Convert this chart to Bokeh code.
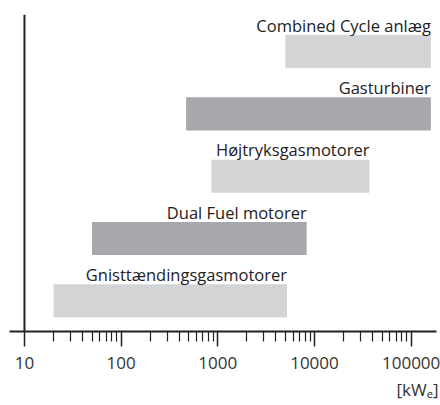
from bokeh.plotting import figure
from bokeh.models import Range1d, FixedTicker, NumeralTickFormatter, Span, Title, ColumnDataSource
from bokeh.core.properties import value
from bokeh.embed import file_html
from bokeh.resources import INLINE

# Data (kWe ranges), listed bottom to top
technologies = ["Gnisttændingsgasmotorer", "Dual Fuel motorer", "Højtryksgasmotorer",
                "Gasturbiner", "Combined Cycle anlæg"]
range_min = [20, 50, 860, 470, 5000]
range_max = [5200, 8300, 37000, 160000, 160000]
shade = ["light", "dark", "light", "dark", "light"]
major_ticks = [10, 100, 1000, 10000, 100000]
minor_ticks = [m * 10 ** k for k in range(1, 5) for m in range(2, 10)]
unit_label = "[kWₑ]"

palette = {"light": "#d3d4d6", "dark": "#a7a8ab"}
BAR_H = 0.53
LABEL_GAP = 0.16  # gap between bar top and label anchor, in row units

pos = [i + 1 for i in range(len(technologies))]
src = ColumnDataSource(dict(
    y=pos, left=range_min, right=range_max,
    color=[palette[s] for s in shade],
    label=technologies,
    ytext=[p_ + BAR_H / 2 + LABEL_GAP for p_ in pos],
))

p = figure(width=440, height=405, x_axis_type="log",
           x_range=Range1d(7.0, 183000), y_range=Range1d(0.507, 5.595),
           output_backend="svg", toolbar_location=None,
           min_border_left=9, min_border_right=4, min_border_top=14, min_border_bottom=73,
           y_axis_location=None)
p.outline_line_color = None
p.xgrid.visible = False
p.ygrid.visible = False

p.hbar(y="y", left="left", right="right", height=BAR_H, color="color", line_color=None, source=src)
p.text(x="right", y="ytext", text="label", source=src, text_align="right",
       text_baseline="alphabetic", text_font=value("Open Sans"),
       text_font_size="16.5px", text_color="#222222")

ax = p.xaxis[0]
ax.ticker = FixedTicker(ticks=major_ticks, minor_ticks=minor_ticks)
ax.formatter = NumeralTickFormatter(format="0")
ax.axis_line_width = 2
ax.axis_line_color = "#222222"
ax.major_tick_in = 0
ax.major_tick_out = 15
ax.minor_tick_in = 0
ax.minor_tick_out = 10
ax.major_tick_line_color = "#222222"
ax.minor_tick_line_color = "#222222"
ax.major_tick_line_width = 1.5
ax.minor_tick_line_width = 1.2
ax.major_label_text_font = "Open Sans"
ax.major_label_text_font_size = "17px"
ax.major_label_text_color = "#333333"
ax.major_label_standoff = 10

p.add_layout(Span(location=10, dimension="height", line_color="#222222", line_width=2))

p.add_layout(Title(text=unit_label, align="right", text_font="Open Sans, Noto Sans",
                   text_font_size="17px", text_font_style="normal",
                   text_color="#333333", offset=-2, standoff=9), "below")

open("out.html", "w").write(file_html(p, INLINE))
